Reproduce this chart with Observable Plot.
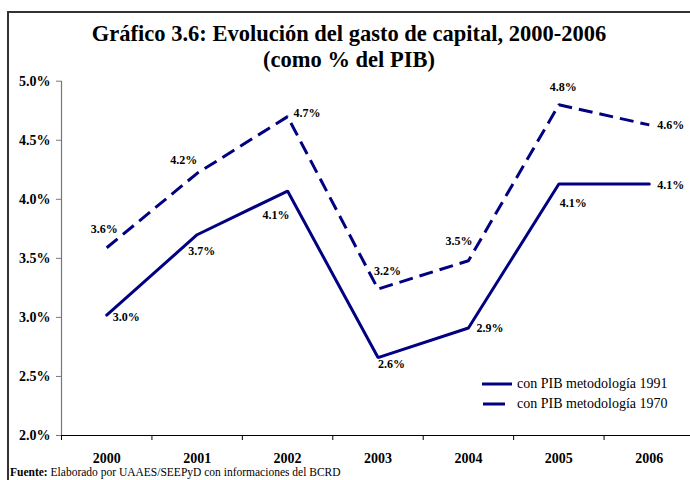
<!DOCTYPE html>
<html>
<head>
<meta charset="utf-8">
<script src="https://cdn.jsdelivr.net/npm/d3@7"></script>
<script src="https://cdn.jsdelivr.net/npm/@observablehq/plot@0.6"></script>
<style>
  html, body { margin: 0; padding: 0; background: #fff; }
  body { width: 690px; height: 480px; overflow: hidden; position: relative; font-family: "Liberation Serif", "Times New Roman", serif; }
  #frame { position: absolute; left: 7px; top: 11px; width: 720px; height: 520px; border-left: 2px solid #333; border-top: 2px solid #333; box-sizing: border-box; }
  #chart { position: absolute; left: 0; top: 0; }
  #title { position: absolute; left: 0; top: 21px; width: 698px; text-align: center; font-weight: bold; font-size: 22.5px; line-height: 26px; color: #000; }
  #legend { position: absolute; left: 482px; top: 374px; font-size: 14px; color: #000; }
  #legend .row { display: flex; align-items: center; height: 20px; }
  #legend svg { margin-right: 3px; }
  #footer { position: absolute; left: 10px; top: 466px; font-size: 11.5px; color: #000; white-space: nowrap; }
</style>
</head>
<body>
<div id="frame"></div>
<div id="chart"></div>
<div id="title"></div>
<div id="legend"></div>
<div id="footer"></div>
<script>
// ---- data ----
const titleLines = ["Gráfico 3.6: Evolución del gasto de capital, 2000-2006", "(como % del PIB)"];
const years = [2000, 2001, 2002, 2003, 2004, 2005, 2006];
const pib1991 = [3.02, 3.70, 4.07, 2.66, 2.91, 4.13, 4.13];
const pib1970 = [3.59, 4.22, 4.70, 3.24, 3.48, 4.80, 4.63];
const labels1991 = ["3.0%", "3.7%", "4.1%", "2.6%", "2.9%", "4.1%", "4.1%"];
const labels1970 = ["3.6%", "4.2%", "4.7%", "3.2%", "3.5%", "4.8%", "4.6%"];
const yTicks = [2.0, 2.5, 3.0, 3.5, 4.0, 4.5, 5.0];
const seriesNames = ["con PIB metodología 1991", "con PIB metodología 1970"];
const sourceLabel = "Fuente:";
const sourceText = " Elaborado por UAAES/SEEPyD con informaciones del BCRD";

// label placement (pixel offsets, like manually placed Excel labels)
const offsets1991 = [[6, 2], [-9, 16], [-25, 24], [0, 7], [8, 0], [1, 19], [8, 1]];
const offsets1970 = [[-16, -19], [-27, -13], [6, -3], [-4, -18], [-23, -20], [-9, -18], [8, 0]];

const navy = "#000080";
const rows1991 = years.map((y, i) => ({year: y, value: pib1991[i], label: labels1991[i]}));
const rows1970 = years.map((y, i) => ({year: y, value: pib1970[i], label: labels1970[i]}));
const boundaries = [years[0] - 0.5, ...years.map(y => y + 0.5)];

function labelMarks(rows, offs) {
  return rows.map((r, i) => Plot.text([r], {
    x: "year", y: "value", text: "label",
    dx: offs[i][0], dy: offs[i][1],
    textAnchor: "start", fontWeight: "bold", fontSize: 12, fill: "#000"
  }));
}

const chart = Plot.plot({
  width: 690,
  height: 480,
  marginLeft: 61,
  marginRight: -4,
  marginTop: 80.7,
  marginBottom: 45,
  style: {fontFamily: "'Liberation Serif', 'Times New Roman', serif", background: "transparent", color: "#000"},
  x: {type: "linear", domain: [years[0] - 0.5, years[years.length - 1] + 0.5]},
  y: {domain: [2, 5]},
  marks: [
    Plot.ruleX([years[0] - 0.5], {stroke: "#777", strokeWidth: 1.2}),
    Plot.axisY({ticks: yTicks, tickFormat: d => d.toFixed(1) + "%", tickSize: 5, tickPadding: 6, fontSize: 14, fontWeight: "bold", stroke: "#777", fill: "#000", label: null}),
    Plot.axisX({ticks: boundaries, tickFormat: () => "", tickSize: 5, stroke: "#000", label: null}),
    Plot.axisX({ticks: years, tickFormat: d => String(d), tickSize: 0, tickPadding: 18, fontSize: 14, fontWeight: "bold", fill: "#000", label: null}),
    Plot.ruleY([2], {stroke: "#000", strokeWidth: 1.2}),
    Plot.line(rows1970, {x: "year", y: "value", stroke: navy, strokeWidth: 3, strokeDasharray: "14,7", strokeLinejoin: "miter", strokeLinecap: "butt"}),
    Plot.line(rows1991, {x: "year", y: "value", stroke: navy, strokeWidth: 3, strokeLinejoin: "miter"}),
    ...labelMarks(rows1991, offsets1991),
    ...labelMarks(rows1970, offsets1970)
  ]
});
document.getElementById("chart").appendChild(chart);

// title
document.getElementById("title").innerHTML = titleLines.join("<br>");

// legend
const legend = document.getElementById("legend");
seriesNames.forEach((name, i) => {
  const row = document.createElement("div");
  row.className = "row";
  const dash = i === 0 ? "" : ' stroke-dasharray="22,100" stroke-dashoffset="-1"';
  row.innerHTML = `<svg width="32" height="6"><line x1="0" y1="3" x2="30" y2="3" stroke="${navy}" stroke-width="3"${dash}/></svg><span>${name}</span>`;
  legend.appendChild(row);
});

// footer
document.getElementById("footer").innerHTML = `<b>${sourceLabel}</b>${sourceText}`;
</script>
</body>
</html>
